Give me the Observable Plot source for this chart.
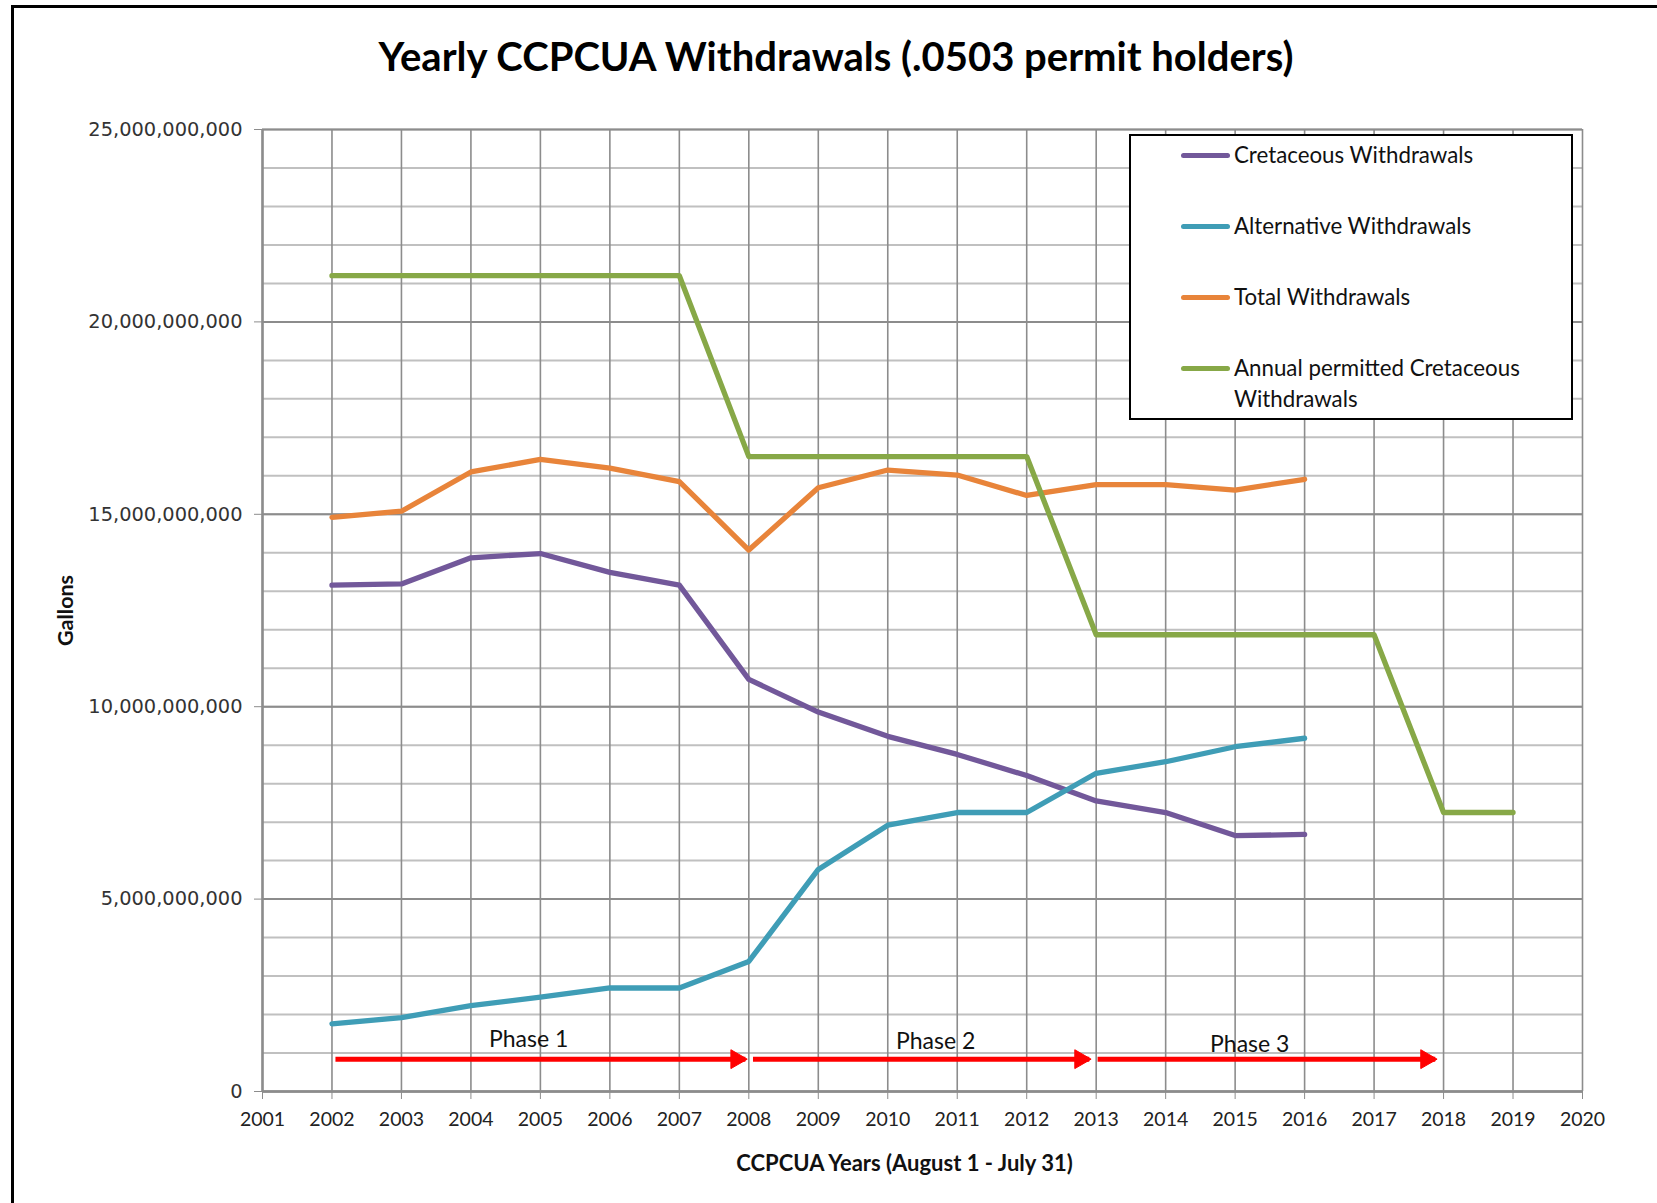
<!DOCTYPE html>
<html>
<head>
<meta charset="utf-8">
<script src="https://cdn.jsdelivr.net/npm/d3@7"></script>
<script src="https://cdn.jsdelivr.net/npm/@observablehq/plot@0.6"></script>
<style>
  html, body { margin: 0; padding: 0; background: #fff; overflow: hidden; }
  #page { position: relative; width: 1657px; height: 1203px; overflow: hidden; }
  #border { position: absolute; left: 11px; top: 5px; width: 1720px; height: 1300px; border: 3px solid #000; box-sizing: border-box; pointer-events: none; }
  #title { position: absolute; left: 0; top: 30px; width: 1672px; text-align: center; font-family: Lato, "Open Sans", sans-serif; font-weight: 700; font-size: 40px; line-height: 52px; color: #000; }
  #chart { position: absolute; left: 0; top: 0; }
  #legend { position: absolute; left: 1129px; top: 134px; width: 444px; height: 286px; border: 2px solid #000; box-sizing: border-box; background: #fff; font-family: Lato, "Open Sans", sans-serif; font-size: 22.3px; color: #111; }
  .entry { position: absolute; left: 0; }
  .swatch { position: absolute; left: 50px; width: 49px; height: 5px; border-radius: 3px; }
  .label { position: absolute; left: 103px; line-height: 30.5px; white-space: nowrap; }
</style>
</head>
<body>
<div id="page">
  <div id="chart"></div>
  <div id="title">Yearly CCPCUA Withdrawals (.0503 permit holders)</div>
  <div id="legend"></div>
  <div id="border"></div>
</div>
<script>
// ---- Data (gallons) ----
const years = [2002, 2003, 2004, 2005, 2006, 2007, 2008, 2009, 2010, 2011, 2012, 2013, 2014, 2015, 2016];
const cretaceous = [13.16e9, 13.19e9, 13.87e9, 13.98e9, 13.49e9, 13.16e9, 10.71e9, 9.86e9, 9.23e9, 8.76e9, 8.21e9, 7.55e9, 7.25e9, 6.65e9, 6.68e9];
const alternative = [1.76e9, 1.92e9, 2.23e9, 2.45e9, 2.69e9, 2.69e9, 3.38e9, 5.77e9, 6.92e9, 7.25e9, 7.25e9, 8.27e9, 8.57e9, 8.96e9, 9.18e9];
const total = [14.92e9, 15.08e9, 16.10e9, 16.43e9, 16.20e9, 15.85e9, 14.07e9, 15.69e9, 16.15e9, 16.02e9, 15.49e9, 15.77e9, 15.77e9, 15.63e9, 15.91e9];
const permitYears = [2002, 2003, 2004, 2005, 2006, 2007, 2008, 2009, 2010, 2011, 2012, 2013, 2014, 2015, 2016, 2017, 2018, 2019];
const permitted = [21.2e9, 21.2e9, 21.2e9, 21.2e9, 21.2e9, 21.2e9, 16.5e9, 16.5e9, 16.5e9, 16.5e9, 16.5e9, 11.87e9, 11.87e9, 11.87e9, 11.87e9, 11.87e9, 7.25e9, 7.25e9];

const seriesNames = ["Cretaceous Withdrawals", "Alternative Withdrawals", "Total Withdrawals", "Annual permitted Cretaceous Withdrawals"];
const seriesColors = ["#72589a", "#3f9db6", "#e8843a", "#87a847"];

// Phases
const phaseNames = ["Phase 1", "Phase 2", "Phase 3"];
const phaseStart = [2002.05, 2008.06, 2013.02];
const phaseEnd = [2007.95, 2012.9, 2017.88];
const phaseArrowY = [0.84e9, 0.84e9, 0.84e9];
const phaseLabelX = [2004.83, 2010.69, 2015.21];
const phaseLabelY = [1.35e9, 1.29e9, 1.21e9];

// Axis ticks
const xTicks = d3.range(2001, 2021);
const yMajor = [0, 5e9, 10e9, 15e9, 20e9, 25e9];
const yMinor = d3.range(0, 25e9 + 1, 1e9);

const xLabel = "CCPCUA Years (August 1 - July 31)";
const yLabel = "Gallons";

// ---- Build tables ----
const lineData = [];
years.forEach((yr, i) => {
  lineData.push({year: yr, value: cretaceous[i], series: seriesNames[0]});
  lineData.push({year: yr, value: alternative[i], series: seriesNames[1]});
  lineData.push({year: yr, value: total[i], series: seriesNames[2]});
});
permitYears.forEach((yr, i) => lineData.push({year: yr, value: permitted[i], series: seriesNames[3]}));

const phases = phaseNames.map((n, i) => ({name: n, x1: phaseStart[i], x2: phaseEnd[i], y: phaseArrowY[i], lx: phaseLabelX[i], ly: phaseLabelY[i]}));

const grid = "#8c8c8c";

const chart = Plot.plot({
  width: 1657,
  height: 1203,
  marginLeft: 262,
  marginRight: 75,
  marginTop: 129,
  marginBottom: 112,
  style: {background: "transparent", fontFamily: "Lato, sans-serif", color: "#222"},
  x: {domain: [2001, 2020], type: "linear"},
  y: {domain: [0, 25e9]},
  color: {domain: seriesNames, range: seriesColors},
  marks: [
    Plot.ruleY(yMinor, {stroke: "#c0c0c0", strokeWidth: 2}),
    Plot.ruleY(yMajor, {stroke: grid, strokeWidth: 2}),
    Plot.ruleX(xTicks, {stroke: grid, strokeWidth: 1.6}),
    Plot.ruleX([2001], {stroke: grid, strokeWidth: 2.5}),
    Plot.ruleY([0], {stroke: grid, strokeWidth: 2.5}),
    Plot.axisX({ticks: xTicks, tickFormat: "d", tickSize: 8, tickPadding: 13, stroke: grid, fill: "#222", fontSize: 19.5, label: null}),
    Plot.axisY({ticks: yMajor, tickFormat: d3.format(","), tickSize: 8, tickPadding: 12, stroke: grid, fill: "#333", fontSize: 19.4, fontFamily: "DejaVu Sans", label: null}),
    Plot.text([xLabel], {frameAnchor: "bottom", dy: 79, dx: -18, fontWeight: "bold", fontSize: 22, fill: "#111"}),
    Plot.text([yLabel], {frameAnchor: "left", dx: -196, rotate: -90, textAnchor: "middle", fontWeight: "bold", fontSize: 21.5, fill: "#111"}),
    Plot.line(lineData, {x: "year", y: "value", z: "series", stroke: "series", strokeWidth: 5.3, strokeLinecap: "round", strokeLinejoin: "round"}),
    // Phase arrows
    Plot.link(phases, {x1: "x1", x2: "x2", y1: "y", y2: "y", stroke: "#ff0000", strokeWidth: 5}),
    Plot.dot(phases, {x: "x2", y: "y", symbol: "triangle", rotate: 90, r: 7, fill: "#ff0000", stroke: "#ff0000", strokeWidth: 1, dx: -9}),
    Plot.text(phases, {x: "lx", y: "ly", text: "name", fontSize: 23, fill: "#111"})
  ]
});
document.getElementById("chart").appendChild(chart);

// ---- Legend (HTML overlay) ----
const legend = document.getElementById("legend");
const entryTops = [4, 75, 146, 217];
seriesNames.forEach((name, i) => {
  const e = document.createElement("div");
  e.className = "entry";
  e.style.top = entryTops[i] + "px";
  const sw = document.createElement("div");
  sw.className = "swatch";
  sw.style.background = seriesColors[i];
  sw.style.top = "13px";
  const lb = document.createElement("div");
  lb.className = "label";
  lb.textContent = name;
  if (i === 3) { lb.style.whiteSpace = "normal"; lb.style.width = "320px"; }
  e.appendChild(sw);
  e.appendChild(lb);
  legend.appendChild(e);
});
</script>
</body>
</html>
